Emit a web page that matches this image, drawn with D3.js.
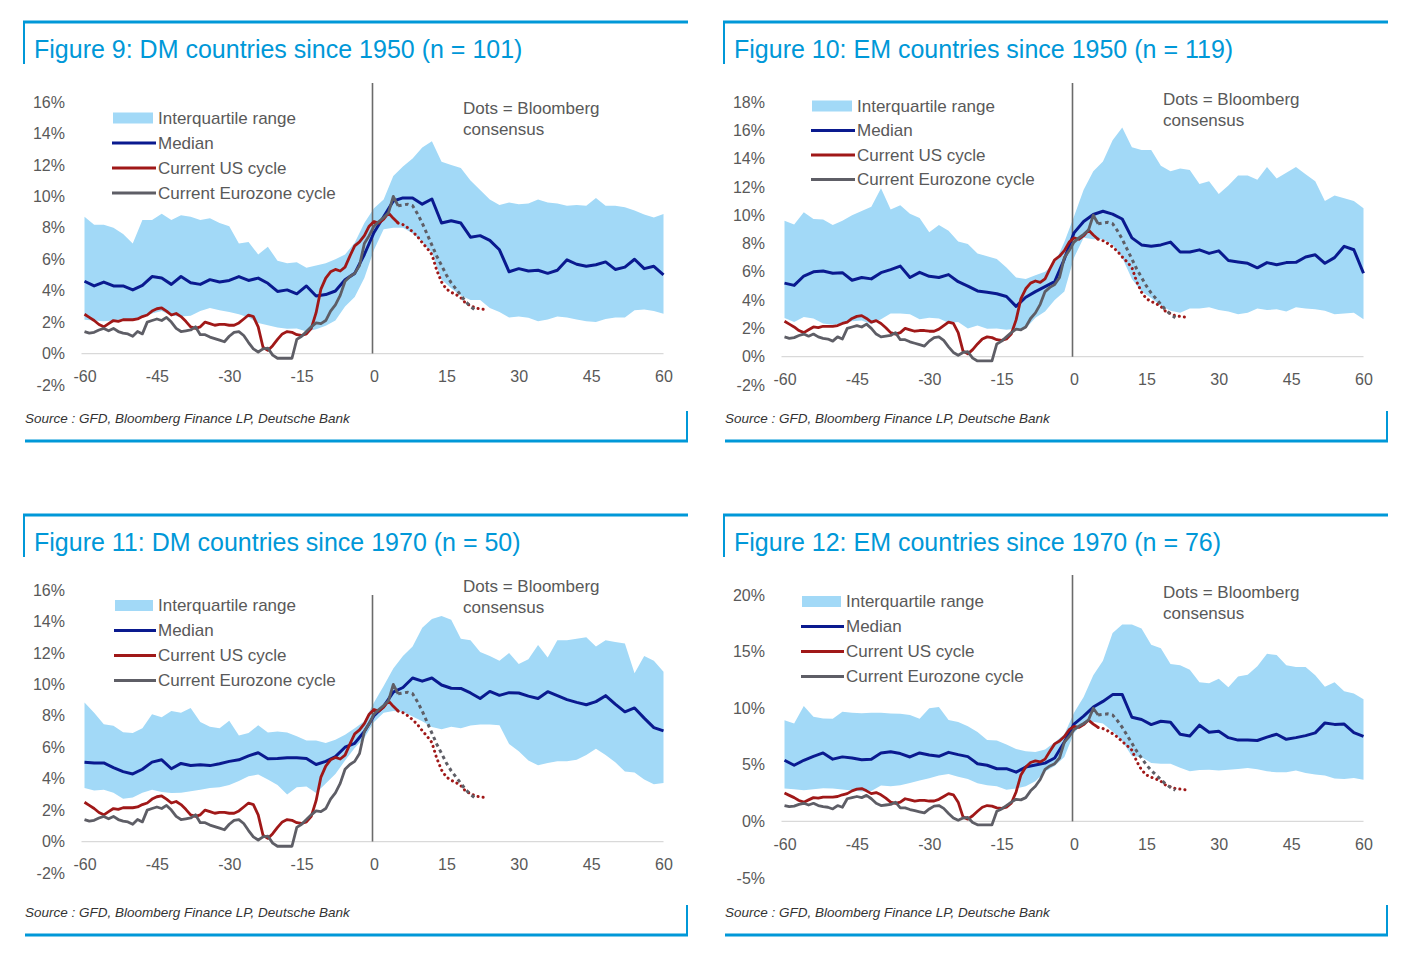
<!DOCTYPE html>
<html><head><meta charset="utf-8">
<script src="https://cdn.jsdelivr.net/npm/d3@7"></script>
<style>
body{margin:0;background:#fff;}
svg{display:block;font-family:"Liberation Sans",Arial,sans-serif;}
</style></head><body>
<svg id="chart" width="1419" height="960"></svg>
<script>
// ---------- DATA ----------
const months = [-60,-58,-56,-54,-52,-50,-48,-46,-44,-42,-40,-38,-36,-34,-32,-30,-28,-26,-24,-22,-20,-18,-16,-14,-12,-10,-8,-6,-4,-2,0,2,4,6,8,10,12,14,16,18,20,22,24,26,28,30,32,34,36,38,40,42,44,46,48,50,52,54,56,58,60];
const xTicks = [-60,-45,-30,-15,0,15,30,45,60];

const titles = ["Figure 9: DM countries since 1950 (n = 101)","Figure 10: EM countries since 1950 (n = 119)","Figure 11: DM countries since 1970 (n = 50)","Figure 12: EM countries since 1970 (n = 76)"];
const legendLabels = ["Interquartile range","Median","Current US cycle","Current Eurozone cycle"];
const noteLines = ["Dots = Bloomberg","consensus"];
const sourceText = "Source : GFD, Bloomberg Finance LP, Deutsche Bank";

const yTicks9 = [-2,0,2,4,6,8,10,12,14,16];
const yTicks10 = [-2,0,2,4,6,8,10,12,14,16,18];
const yTicks11 = [-2,0,2,4,6,8,10,12,14,16];
const yTicks12 = [-5,0,5,10,15,20];

// Figure 9
const upper9 = [8.7,8.2,8.2,8.0,7.6,7.0,8.5,8.5,8.9,8.5,8.8,8.7,8.5,8.6,8.3,8.1,7.0,7.1,6.3,6.8,5.9,5.75,5.8,5.45,5.6,5.75,6.0,6.3,7.05,8.3,9.25,9.8,11.3,11.9,12.4,13.1,13.5,12.2,12.0,11.8,11.0,10.4,9.8,9.45,9.6,9.5,9.55,9.8,9.6,9.55,9.4,9.45,9.4,9.9,9.4,9.4,9.3,9.1,8.85,8.66,8.87];
const lower9 = [2.15,2.1,2.06,2.1,2.2,2.2,2.35,2.55,2.7,2.4,2.35,2.4,2.7,2.9,2.75,2.65,2.5,2.3,1.95,1.8,1.65,1.58,1.6,1.4,1.55,1.77,2.1,3.0,3.6,4.8,6.6,7.9,8.0,8.0,7.65,7.1,6.4,4.7,4.15,3.7,3.4,3.4,2.9,2.65,2.3,2.35,2.28,2.05,2.17,2.35,2.3,2.17,2.06,2.0,2.2,2.3,2.3,2.75,2.8,2.7,2.53];
const median9 = [4.6,4.3,4.55,4.3,4.3,4.05,4.34,4.9,4.8,4.4,4.9,4.5,4.4,4.7,4.55,4.65,4.9,4.65,4.8,4.47,3.95,4.05,3.8,4.3,3.66,3.75,3.98,4.7,5.1,6.3,7.7,8.7,9.7,9.9,9.9,9.5,9.83,8.3,8.45,8.3,7.4,7.5,7.2,6.6,5.2,5.4,5.25,5.3,5.1,5.3,5.96,5.68,5.55,5.65,5.83,5.35,5.5,6.0,5.4,5.55,5.0];

// Figure 10
const upper10 = [9.6,9.35,10.2,9.74,9.7,9.3,9.6,10.0,10.3,10.6,11.9,10.4,10.7,10.1,9.8,8.8,9.3,8.9,8.15,7.96,7.3,7.1,6.9,6.3,5.6,5.5,5.75,6.0,6.6,8.1,9.9,11.8,13.1,13.8,15.3,16.2,14.8,14.6,14.6,13.5,13.1,13.3,13.2,12.2,12.4,11.5,12.1,12.8,12.8,12.5,13.4,12.6,13.0,13.4,12.9,12.4,11.0,11.4,11.2,11.0,10.5];
const lower10 = [2.73,2.45,2.8,2.7,2.35,2.26,2.35,2.5,2.55,2.3,2.65,3.05,3.05,3.0,2.65,2.75,2.7,2.4,2.45,2.0,2.2,1.97,2.0,1.9,1.97,2.0,2.75,3.2,4.0,4.6,7.0,8.4,8.3,8.3,7.9,7.0,5.5,4.6,4.15,3.6,3.25,3.1,3.4,3.4,3.5,3.3,3.2,3.0,3.1,3.4,3.3,3.35,3.2,3.5,3.4,3.35,3.25,3.0,3.05,3.1,2.65];
const median10 = [5.2,5.04,5.7,6.0,6.06,5.9,5.94,5.4,5.6,5.5,5.94,6.15,6.4,5.6,5.96,5.68,5.6,5.8,5.3,4.99,4.65,4.56,4.45,4.25,3.56,4.2,4.6,4.95,5.3,6.9,8.75,9.55,10.05,10.28,10.08,9.73,8.4,7.9,7.8,7.9,8.1,7.4,7.4,7.55,7.3,7.48,6.8,6.7,6.6,6.28,6.65,6.5,6.65,6.67,7.05,7.2,6.6,7.0,7.8,7.56,5.9];

// Figure 11
const upper11 = [8.85,8.2,7.46,7.36,6.95,6.9,7.2,8.1,7.9,8.3,8.2,8.5,7.6,7.3,7.2,7.68,6.75,6.9,7.4,6.93,7.0,6.93,6.7,6.42,6.42,6.27,6.48,6.8,7.2,7.65,8.85,9.9,11.0,11.8,12.4,13.6,14.15,14.35,14.1,12.9,12.8,12.05,11.8,11.5,12.0,11.3,11.6,12.5,11.7,12.8,12.8,12.9,13.0,12.4,12.8,12.7,12.6,10.7,11.8,11.5,10.8];
const lower11 = [3.41,3.25,3.3,3.1,2.72,2.8,3.1,3.3,3.15,3.09,3.1,3.2,3.3,3.4,3.45,3.6,3.85,4.15,4.26,3.94,3.6,3.0,3.45,3.5,3.09,3.7,4.3,5.15,5.95,6.6,7.6,8.2,8.3,8.25,7.95,7.65,7.28,7.14,7.3,7.2,7.38,7.45,7.45,7.4,6.2,5.75,5.15,4.85,5.0,5.1,5.1,5.2,5.5,5.9,5.5,5.05,4.45,4.4,3.95,3.65,3.73];
const median11 = [5.05,5.0,5.0,4.7,4.45,4.3,4.6,5.05,5.2,4.63,4.97,4.84,4.88,4.83,4.95,5.1,5.2,5.45,5.65,5.27,5.28,5.33,5.33,5.28,4.9,5.1,5.4,6.0,6.25,7.0,8.0,8.6,9.5,9.8,10.4,10.2,10.4,9.96,9.75,9.74,9.45,9.1,9.55,9.3,9.47,9.45,9.25,9.1,9.53,9.28,9.03,8.85,8.7,8.9,9.28,8.74,8.25,8.5,7.85,7.25,7.04];

// Figure 12
const upper12 = [8.94,8.64,10.2,9.25,9.1,9.06,9.68,9.6,9.55,9.6,9.6,9.53,9.5,9.4,9.06,10.0,10.1,8.95,8.77,8.4,7.9,7.2,7.15,6.8,6.4,6.19,6.12,6.35,7.0,7.7,9.6,11.0,12.9,14.2,16.65,17.4,17.4,17.05,15.6,15.3,13.9,13.8,13.4,12.3,12.2,12.6,11.85,12.8,12.95,13.7,14.8,14.7,13.8,13.65,13.65,12.9,11.9,12.3,11.5,11.3,10.8];
const lower12 = [2.9,2.85,2.75,2.85,2.93,2.9,2.82,2.74,2.65,2.68,3.17,3.1,3.19,3.4,3.62,3.82,4.05,4.18,3.95,3.75,3.38,3.19,3.1,2.8,2.9,3.1,3.55,4.4,4.9,5.7,7.8,8.75,8.8,8.65,7.95,7.1,5.75,5.7,5.15,5.1,5.1,4.75,4.42,4.55,4.57,4.5,4.57,4.63,4.72,4.6,4.42,4.34,4.34,4.5,4.28,4.15,4.05,3.8,3.75,3.83,3.69];
const median12 = [5.4,4.96,5.4,5.75,6.05,5.5,5.7,5.6,5.45,5.5,6.05,6.15,5.99,5.69,6.05,5.86,5.75,6.1,5.9,5.72,5.1,4.96,4.65,4.66,4.35,4.8,4.98,5.15,5.6,7.02,8.6,9.3,10.1,10.6,11.2,11.2,9.2,9.0,8.55,8.85,8.76,7.7,7.55,8.5,7.88,7.96,7.4,7.18,7.2,7.15,7.45,7.7,7.25,7.4,7.58,7.82,8.7,8.57,8.6,7.85,7.52];

// Current cycles (same in all four figures)
const cycleMonths = [-60,-59,-58,-57,-56,-55,-54,-53,-52,-51,-50,-49,-48,-47,-46,-45,-44,-43,-42,-41,-40,-39,-38,-37,-36,-35,-34,-33,-32,-31,-30,-29,-28,-27,-26,-25,-24,-23,-22,-21,-20,-19,-18,-17,-16,-15,-14,-13,-12,-11,-10,-9,-8,-7,-6,-5,-4,-3,-2,-1,0,1,2,3,4,5];
const usCycle = [2.5,2.3,2.1,1.85,1.7,1.9,2.1,2.05,2.15,2.15,2.15,2.2,2.35,2.45,2.7,2.85,2.9,2.7,2.45,2.55,2.35,2.05,1.7,1.6,1.7,2.0,1.9,1.8,1.85,1.85,1.8,1.8,1.95,2.2,2.45,2.35,1.7,0.4,0.2,0.5,0.9,1.25,1.4,1.35,1.2,1.15,1.25,1.6,2.6,4.1,4.8,5.2,5.35,5.25,5.5,6.2,6.85,7.1,7.5,8.1,8.4,8.3,8.55,8.95,8.6,8.3];
const ezCycle = [1.4,1.3,1.35,1.5,1.6,1.45,1.6,1.4,1.3,1.25,1.1,1.4,1.25,2.0,2.1,2.2,2.1,2.3,2.0,1.6,1.4,1.45,1.5,1.7,1.2,1.2,1.05,0.95,0.85,0.75,1.1,1.35,1.4,1.15,0.7,0.3,0.1,0.3,0.35,-0.1,-0.3,-0.3,-0.3,-0.3,0.9,1.1,1.4,1.7,1.95,1.9,2.1,2.7,3.1,3.7,4.6,4.9,5.1,5.6,7.0,7.5,8.1,8.4,8.65,8.95,10.0,9.4];
const usConsMonths = [5,6,7,8,9,10,11,12,13,14,15,16,17,18,19,20,21,22,23];
const usConsensus = [8.3,8.2,8.0,7.75,7.45,7.05,6.7,6.3,5.3,4.55,4.1,3.9,3.75,3.55,3.2,3.05,2.9,2.85,2.8];
const ezConsMonths = [5,6,7,8,9,10,11,12,13,14,15,16,17,18,19,20,21];
const ezConsensus = [9.4,9.45,9.5,9.4,8.9,8.3,7.6,6.9,6.2,5.6,5.0,4.5,4.1,3.7,3.3,3.0,2.75];

// ---------- STYLE / LAYOUT ----------
const BLUE = "#0098d8", BAND = "#a2d9f7", NAVY = "#0a1a8f", RED = "#a01818", GREY = "#5e5e66", TXT = "#595959";

const panels = [
  {title:titles[0], upper:upper9, lower:lower9, median:median9, yTicks:yTicks9, yDomain:[-2,16],
   fL:23, fR:688, fTop:22, fBot:441, titleY:58, srcY:423, pL:84.5, pR:663.5, pTop:102, pBot:385, vTop:83,
   legX:113, legTx:158, legY:118, legStep:25, noteX:463, noteY:108},
  {title:titles[1], upper:upper10, lower:lower10, median:median10, yTicks:yTicks10, yDomain:[-2,18],
   fL:723, fR:1388, fTop:22, fBot:441, titleY:58, srcY:423, pL:784.5, pR:1363.5, pTop:102, pBot:385, vTop:83,
   legX:812, legTx:857, legY:106, legStep:24.5, noteX:1163, noteY:99},
  {title:titles[2], upper:upper11, lower:lower11, median:median11, yTicks:yTicks11, yDomain:[-2,16],
   fL:23, fR:688, fTop:515, fBot:935, titleY:551, srcY:917, pL:84.5, pR:663.5, pTop:590, pBot:873, vTop:595,
   legX:115, legTx:158, legY:605.5, legStep:25, noteX:463, noteY:586},
  {title:titles[3], upper:upper12, lower:lower12, median:median12, yTicks:yTicks12, yDomain:[-5,20],
   fL:723, fR:1388, fTop:515, fBot:935, titleY:551, srcY:917, pL:784.5, pR:1363.5, pTop:595, pBot:878, vTop:575,
   legX:802, legTx:846, legY:601.5, legStep:25, noteX:1163, noteY:592}
];

const svg = d3.select("#chart");

panels.forEach(p => {
  const g = svg.append("g");
  // frame
  g.append("line").attr("x1",p.fL).attr("x2",p.fR).attr("y1",p.fTop).attr("y2",p.fTop).attr("stroke",BLUE).attr("stroke-width",3);
  g.append("line").attr("x1",p.fL+1).attr("x2",p.fL+1).attr("y1",p.fTop).attr("y2",p.fTop+42).attr("stroke",BLUE).attr("stroke-width",2);
  g.append("line").attr("x1",p.fL+2).attr("x2",p.fR).attr("y1",p.fBot).attr("y2",p.fBot).attr("stroke",BLUE).attr("stroke-width",3);
  g.append("line").attr("x1",p.fR-1).attr("x2",p.fR-1).attr("y1",p.fBot-30).attr("y2",p.fBot).attr("stroke",BLUE).attr("stroke-width",2);
  g.append("text").attr("x",p.fL+11).attr("y",p.titleY).attr("fill",BLUE).attr("font-size",25).text(p.title);
  g.append("text").attr("x",p.fL+2).attr("y",p.srcY).attr("fill","#333").attr("font-size",13.5).attr("font-style","italic").text(sourceText);

  const x = d3.scaleLinear().domain([-60,60]).range([p.pL,p.pR]);
  const y = d3.scaleLinear().domain(p.yDomain).range([p.pBot,p.pTop]);

  // band
  const bandData = months.map((m,i)=>({m, lo:p.lower[i], hi:p.upper[i]}));
  g.append("path").datum(bandData)
    .attr("d", d3.area().x(d=>x(d.m)).y0(d=>y(d.lo)).y1(d=>y(d.hi)))
    .attr("fill",BAND);

  // zero axis line
  g.append("line").attr("x1",x(-60)-3).attr("x2",x(60)).attr("y1",y(0)).attr("y2",y(0))
    .attr("stroke","#d9d9d9").attr("stroke-width",1.2);

  // vertical line at 0
  g.append("line").attr("x1",x(0)-1.5).attr("x2",x(0)-1.5).attr("y1",p.vTop).attr("y2",y(0))
    .attr("stroke","#6b6b6b").attr("stroke-width",1.6);

  const line = d3.line().x(d=>x(d[0])).y(d=>y(d[1]));
  const zip = (xs,vs)=>xs.map((m,i)=>[m,vs[i]]);

  g.append("path").datum(zip(months,p.median)).attr("d",line)
    .attr("fill","none").attr("stroke",NAVY).attr("stroke-width",3).attr("stroke-linejoin","round");
  g.append("path").datum(zip(cycleMonths,usCycle)).attr("d",line)
    .attr("fill","none").attr("stroke",RED).attr("stroke-width",2.8).attr("stroke-linejoin","round");
  g.append("path").datum(zip(cycleMonths,ezCycle)).attr("d",line)
    .attr("fill","none").attr("stroke",GREY).attr("stroke-width",2.8).attr("stroke-linejoin","round");
  g.append("path").datum(zip(usConsMonths,usConsensus)).attr("d",line)
    .attr("fill","none").attr("stroke",RED).attr("stroke-width",3).attr("stroke-linecap","round").attr("stroke-dasharray","0.1,5");
  g.append("path").datum(zip(ezConsMonths,ezConsensus)).attr("d",line)
    .attr("fill","none").attr("stroke",GREY).attr("stroke-width",3).attr("stroke-dasharray","3.5,3.5");

  // axes
  const yAx = g.append("g").attr("transform",`translate(${p.pL-19.5},0)`)
    .call(d3.axisLeft(y).tickValues(p.yTicks).tickSize(0).tickPadding(0).tickFormat(d=>d+"%"));
  yAx.select(".domain").remove();
  yAx.selectAll("text").attr("fill",TXT).attr("font-size",16).attr("font-family","Liberation Sans, Arial, sans-serif");

  const xAx = g.append("g").attr("transform",`translate(0,${y(0)})`)
    .call(d3.axisBottom(x).tickValues(xTicks).tickSize(0).tickPadding(17).tickFormat(d=>d));
  xAx.select(".domain").remove();
  xAx.selectAll("text").attr("fill",TXT).attr("font-size",16).attr("font-family","Liberation Sans, Arial, sans-serif");

  // legend
  const lg = g.append("g");
  legendLabels.forEach((lab,i)=>{
    const ly = p.legY + i*p.legStep;
    if(i===0){
      lg.append("rect").attr("x",p.legX).attr("y",ly-5.5).attr("width",p.legTx-p.legX-5).attr("height",11).attr("fill",BAND);
    } else {
      const col = [null,NAVY,RED,GREY][i];
      lg.append("line").attr("x1",p.legX-1).attr("x2",p.legTx-2).attr("y1",ly).attr("y2",ly)
        .attr("stroke",col).attr("stroke-width",3);
    }
    lg.append("text").attr("x",p.legTx).attr("y",ly).attr("dy","0.35em").attr("fill",TXT).attr("font-size",17).text(lab);
  });

  // note
  noteLines.forEach((t,i)=>{
    g.append("text").attr("x",p.noteX).attr("y",p.noteY + i*21).attr("dy","0.35em")
      .attr("fill",TXT).attr("font-size",17).text(t);
  });
});
</script>
</body></html>
